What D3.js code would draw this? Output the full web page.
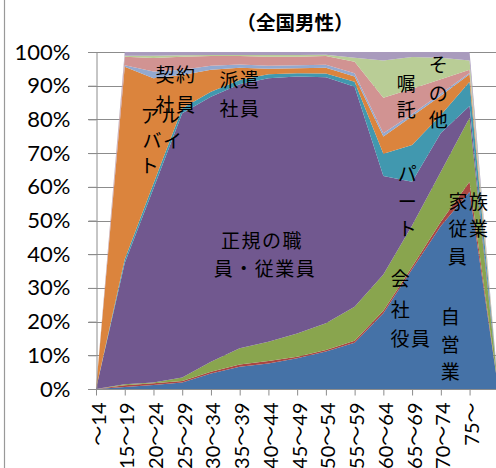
<!DOCTYPE html>
<html><head><meta charset="utf-8">
<script src="https://cdn.jsdelivr.net/npm/d3@7"></script>
<style>
html,body{margin:0;padding:0;background:#fff;}
svg{display:block;}
</style></head>
<body>
<svg id="c" width="496" height="468"></svg>
<script>
const categories = ["～14","15～19","20～24","25～29","30～34","35～39","40～44","45～49","50～54","55～59","60～64","65～69","70～74","75～",""];
const seriesNames = ["自営業","家族従業員","会社役員","正規の職員・従業員","パート","アルバイト","派遣社員","契約社員","嘱託","その他"];
const jieigyo   = [0, 0.6, 1.2, 1.9, 4.6, 6.6, 7.6, 9.1, 11.1, 13.7, 22.5, 35.5, 48.4, 58.5, 0];
const kazoku    = [0, 0.5, 0.5, 0.5, 0.5, 0.7, 0.7, 0.5, 0.5, 0.6, 0.7, 0.8, 1.2, 3.0, 0];
const yakuin    = [0, 0.3, 0.2, 1.0, 3.0, 4.8, 5.7, 6.9, 7.9, 10.1, 10.8, 12.2, 14.9, 19.0, 0];
const seiki     = [0, 36.0, 57.6, 78.4, 78.6, 78.3, 78.2, 76.2, 73.0, 65.3, 29.2, 13.0, 11.5, 3.5, 0];
const part      = [0, 1.1, 1.5, 1.5, 1.5, 1.3, 1.2, 1.0, 1.1, 1.5, 6.6, 10.9, 5.3, 7.2, 0];
const arubaito  = [0, 57.1, 31.2, 9.9, 6.5, 3.6, 1.6, 1.5, 1.7, 1.5, 5.1, 8.5, 5.7, 2.2, 0];
const haken     = [0, 0.5, 2.0, 1.5, 1.2, 1.0, 0.9, 0.9, 0.9, 1.0, 1.0, 0.7, 0.7, 0.4, 0];
const keiyaku   = [0, 2.5, 4.0, 3.9, 2.9, 2.5, 2.7, 2.5, 2.6, 3.4, 10.5, 7.5, 4.2, 0.9, 0];
const shokutaku = [0, 0.3, 0.7, 0.4, 0.3, 0.3, 0.5, 0.5, 0.4, 1.2, 11.1, 9.4, 6.4, 2.8, 0];
const sonota    = [0, 1.1, 1.1, 1.0, 0.9, 0.9, 0.9, 0.9, 0.8, 1.7, 2.5, 1.5, 1.7, 2.5, 0];
const yTicks = [0,10,20,30,40,50,60,70,80,90,100];
const title = "（全国男性）";
const colors = ["#4572A7","#AA4643","#89A54E","#71588F","#4198AF","#DB843D","#93A9CF","#D19392","#B9CD96","#A99BBD"];

const seriesValues = [jieigyo,kazoku,yakuin,seiki,part,arubaito,haken,keiyaku,shokutaku,sonota];
const rows = categories.map((c,i)=>{const r={cat:c}; seriesNames.forEach((s,k)=>r[s]=seriesValues[k][i]); return r;});

const svg = d3.select("#c");
const x = d3.scalePoint().domain(categories).range([96, 498.3]);
const y = d3.scaleLinear().domain([0,100]).range([389, 52]);
const grid = "#8c8c8c";

// left frame border
svg.append("line").attr("x1",4.5).attr("x2",4.5).attr("y1",0).attr("y2",468).attr("stroke","#999").attr("stroke-width",1.2);

// gridlines
svg.append("g").selectAll("line").data(yTicks).join("line")
  .attr("x1",88).attr("x2",496).attr("y1",d=>Math.round(y(d))+0.5).attr("y2",d=>Math.round(y(d))+0.5)
  .attr("stroke",grid).attr("stroke-width",1);

// areas
const stack = d3.stack().keys(seriesNames);
const layers = stack(rows);
const area = d3.area().x(d=>x(d.data.cat)).y0(d=>y(d[0])).y1(d=>y(d[1]));
svg.append("g").selectAll("path").data(layers).join("path")
  .attr("d",area).attr("fill",(d,i)=>colors[i]);

// y axis
const yAxis = d3.axisLeft(y).tickValues(yTicks).tickFormat(d=>d+"%").tickSize(8);
const gy = svg.append("g").attr("transform","translate(96.5,0)").call(yAxis);
gy.select(".domain").attr("stroke",grid);
gy.selectAll(".tick line").attr("stroke",grid);
gy.selectAll(".tick text").attr("x",-26).attr("font-family","Lato, 'Liberation Sans', sans-serif").attr("font-size",22).attr("fill","#000");

// x axis
const xAxis = d3.axisBottom(x).tickSize(6).tickFormat(d=>d);
const gx = svg.append("g").attr("transform","translate(0,389.5)").call(xAxis);
gx.select(".domain").attr("stroke",grid).attr("d","M88,0H496");
gx.selectAll(".tick line").attr("stroke",grid);
gx.selectAll(".tick text")
  .attr("font-family","Lato, 'Noto Sans CJK JP', sans-serif").attr("font-size",20).attr("fill","#000")
  .attr("text-anchor","end").attr("transform","translate(2,13) rotate(-90)").attr("x",0).attr("y",0).attr("dy","0.35em");

// title
svg.append("text").attr("x",295).attr("y",30).attr("text-anchor","middle")
  .attr("font-family","'Noto Sans CJK JP', sans-serif").attr("font-weight","bold").attr("font-size",19.5).text(title);

// annotations
const jp = "'Noto Sans CJK JP', sans-serif";
const labels = [
  {t:"契約", x:176, y:82}, {t:"社員", x:176, y:112},
  {t:"派遣", x:240, y:87}, {t:"社員", x:240, y:116},
  {t:"アル", x:161, y:123}, {t:"バイ", x:163, y:148}, {t:"ト", x:150, y:173},
  {t:"嘱", x:407, y:91}, {t:"託", x:407, y:117},
  {t:"そ", x:439, y:72}, {t:"の", x:439, y:101}, {t:"他", x:439, y:127},
  {t:"パ", x:408, y:181}, {t:"ー", x:408, y:209}, {t:"ト", x:408, y:236},
  {t:"会", x:401, y:286}, {t:"社", x:401, y:317}, {t:"役員", x:411, y:346},
  {t:"家族", x:469, y:209}, {t:"従業", x:469, y:236}, {t:"員", x:458, y:264},
  {t:"自", x:451, y:324}, {t:"営", x:451, y:352}, {t:"業", x:451, y:379},
  {t:"正規の職", x:262, y:248}, {t:"員・従業員", x:265, y:276}
];
svg.append("g").selectAll("text").data(labels).join("text")
  .attr("x",d=>d.x).attr("y",d=>d.y).attr("text-anchor","middle")
  .attr("font-family",jp).attr("font-size",19).attr("letter-spacing",1.5).attr("fill","#000").text(d=>d.t);
</script>
</body></html>
